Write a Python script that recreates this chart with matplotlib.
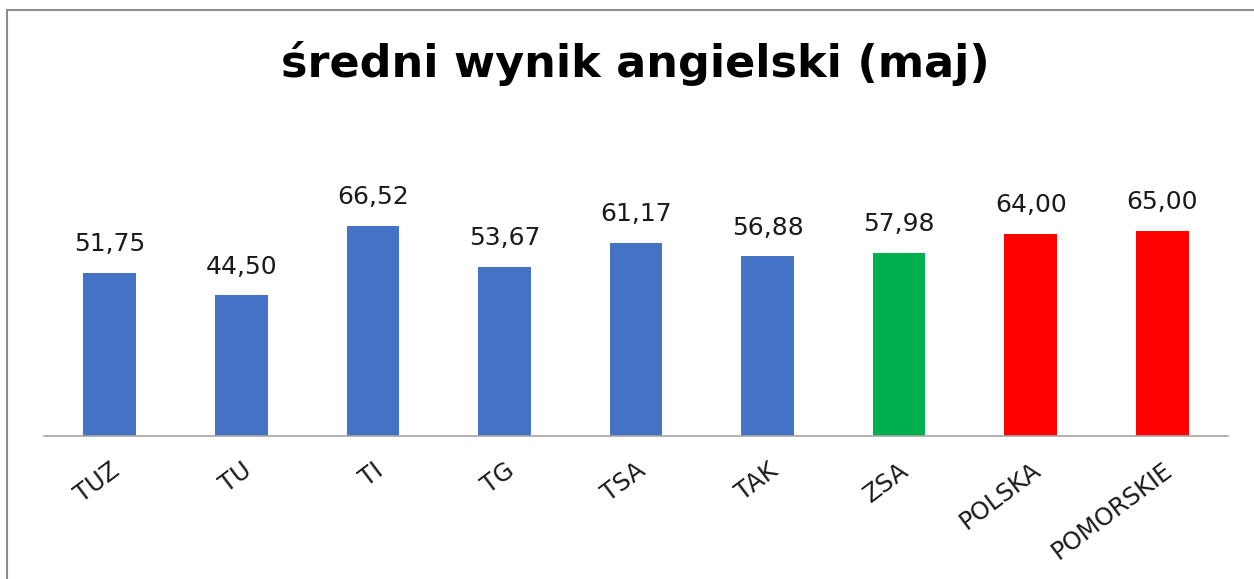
import matplotlib.pyplot as plt
from matplotlib.patches import Rectangle

# dane z wykresu
categories = ['TUZ', 'TU', 'TI', 'TG', 'TSA', 'TAK', 'ZSA', 'POLSKA', 'POMORSKIE']
values = [51.75, 44.50, 66.52, 53.67, 61.17, 56.88, 57.98, 64.00, 65.00]
colors = ['#4472C4'] * 6 + ['#00B050', '#FF0000', '#FF0000']

plt.rcParams['font.family'] = ['DejaVu Sans']

W, H = 1254, 579
fig = plt.figure(figsize=(W / 100, H / 100), dpi=100)
ax = fig.add_axes([44 / W, 1 - 436 / H, (1228 - 44) / W, (436 - 183.4) / H])

x = range(len(categories))
bars = ax.bar(x, values, width=0.40, color=colors, zorder=2)

for b, v in zip(bars, values):
    ax.annotate(f'{v:.2f}'.replace('.', ','),
                (b.get_x() + b.get_width() / 2, v),
                xytext=(0, 12), textcoords='offset points',
                ha='center', va='bottom', fontsize=18, color='#1a1a1a')

ax.set_xlim(-0.5, len(categories) - 0.5)
ax.set_ylim(0, 80)
ax.set_yticks([])
ax.set_xticks(list(x))
ax.set_xticklabels(categories, rotation=37, ha='right', rotation_mode='anchor',
                   fontsize=17.5, color='#1a1a1a')
ax.tick_params(axis='x', length=0, pad=16)
for s in ['top', 'right', 'left']:
    ax.spines[s].set_visible(False)
ax.spines['bottom'].set_color('#a6a6a6')
ax.spines['bottom'].set_linewidth(1.2)

fig.text(635 / W, 1 - 63 / H, 'średni wynik angielski (maj)',
         ha='center', va='center', fontsize=32, fontweight='bold', color='black')

# ramka wykresu (ucięta z prawej i u dołu)
fig.patches.append(Rectangle((7 / W, -0.1), 1.2, 1 - 10 / H + 0.1,
                             transform=fig.transFigure, fill=False,
                             edgecolor='#8c8c8c', linewidth=1.5))

fig.savefig('out.png', dpi=100)
